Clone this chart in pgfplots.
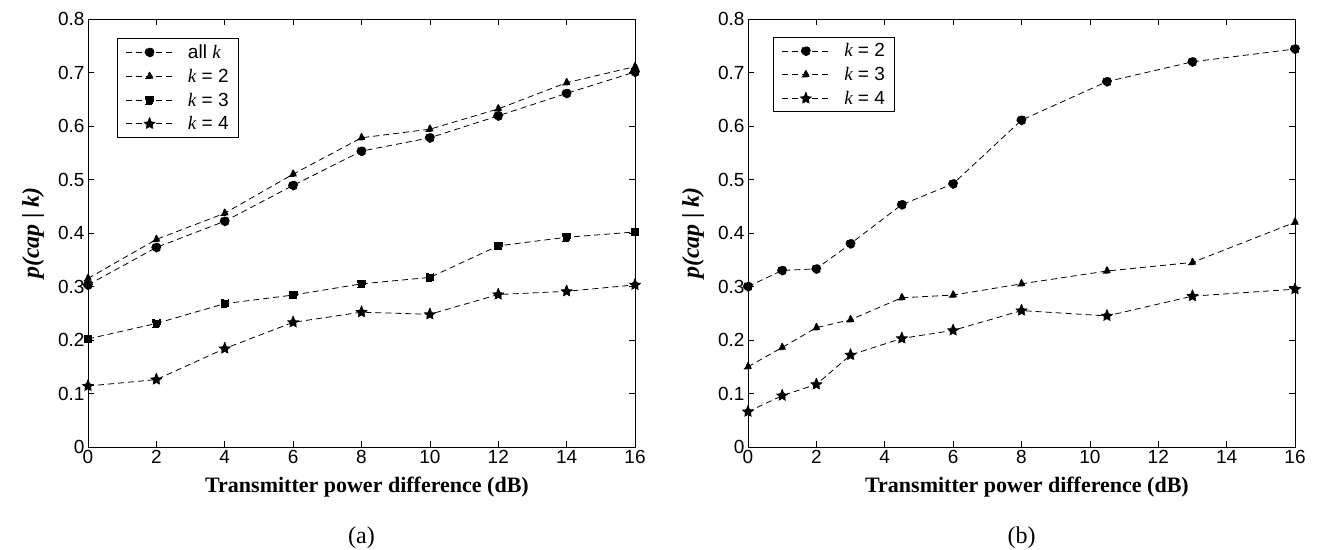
\documentclass[border=0pt]{standalone}
\usepackage{fontspec}
\setmainfont{Liberation Serif}
\setsansfont{Liberation Sans}
\usepackage{pgfplots}
\pgfplotsset{compat=1.18}

\pgfdeclareplotmark{fstar}{%
\pgfpathmoveto{\pgfpointpolar{90}{\pgfplotmarksize}}%
\pgfpathlineto{\pgfpointpolar{126}{0.4\pgfplotmarksize}}%
\pgfpathlineto{\pgfpointpolar{162}{\pgfplotmarksize}}%
\pgfpathlineto{\pgfpointpolar{198}{0.4\pgfplotmarksize}}%
\pgfpathlineto{\pgfpointpolar{234}{\pgfplotmarksize}}%
\pgfpathlineto{\pgfpointpolar{270}{0.4\pgfplotmarksize}}%
\pgfpathlineto{\pgfpointpolar{306}{\pgfplotmarksize}}%
\pgfpathlineto{\pgfpointpolar{342}{0.4\pgfplotmarksize}}%
\pgfpathlineto{\pgfpointpolar{18}{\pgfplotmarksize}}%
\pgfpathlineto{\pgfpointpolar{54}{0.4\pgfplotmarksize}}%
\pgfpathclose\pgfusepathqfillstroke}

\pgfplotsset{
 mystyle/.style={
  scale only axis, width=547pt, height=428pt,
  xmin=0,xmax=16,ymin=0,ymax=0.8,
  xtick={0,2,4,6,8,10,12,14,16},
  ytick={0,0.1,0.2,0.3,0.4,0.5,0.6,0.7,0.8},
  tick align=inside, major tick length=6pt,
  axis line style={line width=0.9pt},
  every tick/.style={black, line width=0.7pt},
  ticklabel style={font=\sffamily\fontsize{19}{19}\selectfont},
  /pgf/number format/assume math mode=true,
  yticklabel style={/pgf/number format/fixed, /pgf/number format/precision=1},
  xlabel={\bfseries Transmitter power difference (dB)},
  ylabel={\bfseries\itshape p(cap {\upshape|} k)},
  xlabel style={font=\rmfamily\fontsize{22}{22}\selectfont,
    at={(axis description cs:0.51,0)}, anchor=center, yshift=-40pt},
  ylabel style={font=\rmfamily\fontsize{24}{24}\selectfont,
    at={(axis description cs:-0.1005,0.5)}, anchor=center},
  legend cell align=left,
  legend style={anchor=north west, draw=black, line width=0.9pt,
    font=\sffamily\fontsize{19}{19}\selectfont, row sep=5pt, column sep=12pt,
    inner xsep=8pt, inner ysep=4pt},
  legend image code/.code={\draw[mark repeat=2,mark phase=2,#1] plot coordinates {(0pt,0pt) (24pt,0pt) (48pt,0pt)};},
  every axis plot/.append style={black, line width=0.8pt, dash pattern=on 6pt off 4pt},
  every mark/.append style={solid, fill=black},
 }
}

\begin{document}
\begin{tikzpicture}[x=1pt,y=1pt]
\useasboundingbox (0,0) rectangle (1317,549);
\begin{axis}[mystyle, name=a, at={(88pt,102pt)}, anchor=south west,
  legend style={at={(0.0525,0.955)}}]
\addplot[mark=*, mark size=4.6pt] coordinates {
(0,0.303) (2,0.373) (4,0.422) (6,0.489) (8,0.553) (10,0.578) (12,0.619) (14,0.661) (16,0.701)};
\addlegendentry{all {\rmfamily\itshape k}}
\addplot[mark=triangle*, mark size=4.4pt] coordinates {
(0,0.315) (2,0.388) (4,0.437) (6,0.510) (8,0.578) (10,0.594) (12,0.632) (14,0.681) (16,0.711)};
\addlegendentry{{\rmfamily\itshape k} = 2}
\addplot[mark=square*, mark size=3.8pt] coordinates {
(0,0.202) (2,0.231) (4,0.268) (6,0.284) (8,0.305) (10,0.317) (12,0.376) (14,0.392) (16,0.402)};
\addlegendentry{{\rmfamily\itshape k} = 3}
\addplot[mark=fstar, mark size=6.4pt] coordinates {
(0,0.114) (2,0.126) (4,0.184) (6,0.233) (8,0.252) (10,0.248) (12,0.285) (14,0.291) (16,0.303)};
\addlegendentry{{\rmfamily\itshape k} = 4}
\end{axis}
\node[font=\rmfamily\fontsize{24}{24}\selectfont] at ([yshift=-91pt]a.south) {(a)};

\begin{axis}[mystyle, name=b, at={(748pt,102pt)}, anchor=south west,
  legend style={at={(0.0457,0.9575)}}]
\addplot[mark=*, mark size=4.6pt] coordinates {
(0,0.300) (1,0.330) (2,0.333) (3,0.380) (4.5,0.453) (6,0.492) (8,0.611) (10.5,0.683) (13,0.720) (16,0.744)};
\addlegendentry{{\rmfamily\itshape k} = 2}
\addplot[mark=triangle*, mark size=4.4pt] coordinates {
(0,0.150) (1,0.186) (2,0.223) (3,0.238) (4.5,0.279) (6,0.284) (8,0.305) (10.5,0.329) (13,0.345) (16,0.420)};
\addlegendentry{{\rmfamily\itshape k} = 3}
\addplot[mark=fstar, mark size=6.4pt] coordinates {
(0,0.066) (1,0.096) (2,0.117) (3,0.172) (4.5,0.203) (6,0.218) (8,0.255) (10.5,0.245) (13,0.282) (16,0.295)};
\addlegendentry{{\rmfamily\itshape k} = 4}
\end{axis}
\node[font=\rmfamily\fontsize{24}{24}\selectfont] at ([yshift=-91pt]b.south) {(b)};
\end{tikzpicture}
\end{document}
